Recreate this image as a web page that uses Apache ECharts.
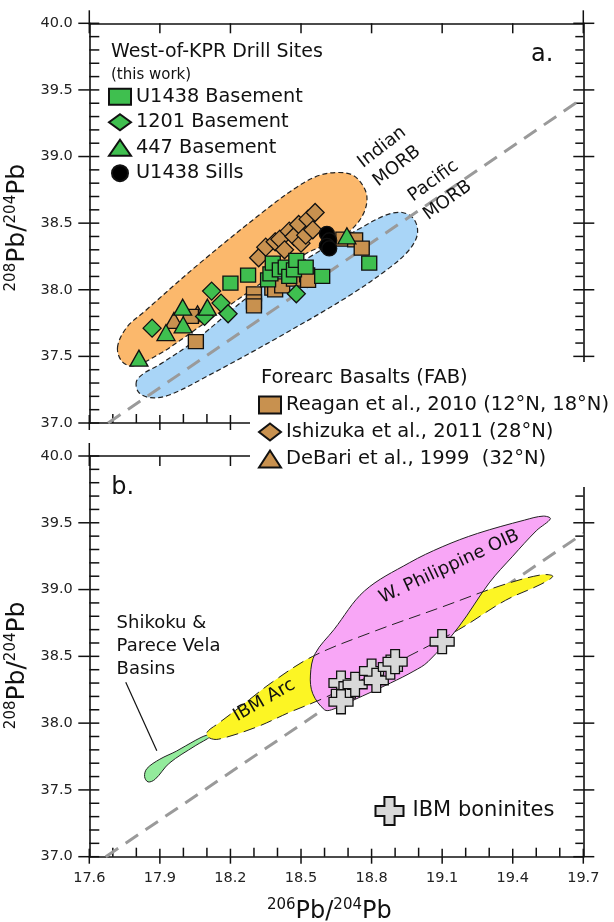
<!DOCTYPE html>
<html><head><meta charset="utf-8">
<script src="https://cdn.jsdelivr.net/npm/echarts@6/dist/echarts.min.js"></script>
<style>html,body{margin:0;padding:0;background:#fff}#c{width:614px;height:922px}</style>
</head><body><div id="c"></div>
<script>
// ---------------- data ----------------
const xTickLabels = ['17.6','17.9','18.2','18.5','18.8','19.1','19.4','19.7'];
const yTickLabels = ['37.0','37.5','38.0','38.5','39.0','39.5','40.0'];

// panel a : West-of-KPR drill sites
const u1438Basement = [[18.20,38.05],[18.275,38.11],[18.36,38.075],[18.37,38.12],[18.38,38.20],[18.41,38.15],[18.435,38.17],[18.45,38.10],[18.47,38.15],[18.48,38.22],[18.52,38.17],[18.59,38.10],[18.79,38.20]];
const site1201Basement = [[17.867,37.712],[18.09,37.80],[18.12,37.99],[18.16,37.90],[18.19,37.82],[18.48,37.97]];
const site447Basement = [[17.811,37.487],[17.926,37.679],[17.999,37.737],[17.997,37.869],[18.102,37.869],[18.695,38.405]];
const u1438Sills = [[18.61,38.42],[18.62,38.37],[18.61,38.33],[18.62,38.31]];
// panel a : forearc basalts
const reagan2010 = [[18.053,37.611],[18.032,37.80],[18.30,37.97],[18.30,37.91],[18.30,37.88],[18.378,38.012],[18.39,38.00],[18.42,38.03],[18.47,38.08],[18.526,38.112],[18.53,38.07],[18.68,38.38],[18.73,38.375],[18.758,38.312]];
const ishizuka2011 = [[18.32,38.24],[18.35,38.32],[18.39,38.36],[18.41,38.38],[18.43,38.30],[18.45,38.44],[18.47,38.40],[18.49,38.49],[18.50,38.35],[18.52,38.41],[18.53,38.53],[18.55,38.45],[18.56,38.58]];
const debari1999 = [[17.96,37.77],[18.06,37.82]];
// panel a : fields (outline vertices)
const indianMORB = [[17.72,37.57],[17.74,37.46],[17.79,37.43],[17.90,37.52],[18.01,37.65],[18.25,37.95],[18.52,38.27],[18.66,38.38],[18.73,38.48],[18.77,38.59],[18.78,38.70],[18.76,38.79],[18.72,38.86],[18.66,38.88],[18.58,38.86],[18.49,38.78],[18.35,38.60],[18.07,38.20],[17.83,37.83],[17.76,37.72]];
const pacificMORB = [[17.80,37.31],[17.81,37.23],[17.86,37.19],[17.94,37.21],[18.10,37.35],[18.40,37.64],[18.70,37.95],[18.88,38.17],[18.96,38.30],[18.995,38.42],[18.98,38.53],[18.93,38.58],[18.86,38.56],[18.74,38.45],[18.55,38.26],[18.30,37.98],[18.05,37.62],[17.90,37.44],[17.83,37.37]];
const nhrlA = [[17.68,37.0],[19.70,39.44]];

// panel b
const ibmBoninites = [[18.67,38.30],[18.68,38.22],[18.67,38.16],[18.73,38.29],[18.80,38.39],[18.82,38.32],[18.88,38.42],[18.90,38.46],[19.10,38.61]];
const shikokuField = [[17.85,37.56],[17.835,37.60],[17.845,37.66],[17.90,37.73],[17.97,37.79],[18.05,37.87],[18.10,37.91],[18.115,37.90],[18.05,37.83],[17.94,37.70],[17.88,37.58]];
const ibmArcField = [[18.10,37.93],[18.15,38.00],[18.24,38.12],[18.38,38.31],[18.55,38.50],[18.80,38.68],[19.10,38.87],[19.35,39.03],[19.52,39.11],[19.57,39.10],[19.52,39.04],[19.37,38.92],[19.17,38.70],[18.90,38.45],[18.60,38.19],[18.45,38.08],[18.31,37.97],[18.15,37.88],[18.11,37.89]];
const wPhilippineOIB = [[18.60,38.10],[18.55,38.22],[18.54,38.36],[18.56,38.52],[18.64,38.70],[18.77,38.99],[18.96,39.20],[19.10,39.32],[19.25,39.42],[19.45,39.52],[19.53,39.55],[19.56,39.53],[19.50,39.44],[19.40,39.25],[19.30,39.05],[19.17,38.72],[19.04,38.46],[18.98,38.39],[18.88,38.30],[18.72,38.17],[18.63,38.10]];
const nhrlB = [[17.67,37.0],[19.70,39.42]];

// ---------------- helpers ----------------
const X0 = parseFloat(xTickLabels[0]);
const XN = Math.round((parseFloat(xTickLabels[xTickLabels.length-1]) - X0) * 10);   // 21 (0.1 units)
const Y0 = parseFloat(yTickLabels[0]), YN = parseFloat(yTickLabels[yTickLabels.length-1]);
const tx = x => Math.round((x - X0) * 10 * 10000) / 10000;   // axis works in 0.1 units from 17.6
const conv = arr => arr.map(p => [tx(p[0]), p[1]]);
const FONT = 'DejaVu Sans';
const LS = {color:'#111', width:1.6};

function xAx(grid, pos, labels, name) {
  const a = {gridIndex:grid, type:'value', position:pos, min:0, max:XN, interval:3,
    axisLine:{show:true, onZero:false, lineStyle:LS},
    axisTick:{show:false}, minorTick:{show:false},
    splitLine:{show:false}, minorSplitLine:{show:false},
    axisLabel:{show:labels, margin:14.5, color:'#222', fontFamily:FONT, fontSize:14.5, showMinLabel:true, showMaxLabel:true,
      formatter: v => xTickLabels[Math.round(v/3)] || ''},
    silent:true};
  if (name) {
    a.name = '{sup|206}{b|Pb/}{sup|204}{b|Pb}';
    a.nameLocation = 'middle'; a.nameGap = 41;
    a.nameTextStyle = {padding:[0,14,0,0], rich:{sup:{fontSize:15, fontFamily:FONT, color:'#111', verticalAlign:'top', lineHeight:15},
                             b:{fontSize:24, fontFamily:FONT, color:'#111', lineHeight:28}}};
  }
  return a;
}
function yAx(grid, pos, labels, name, shift) {
  const a = {gridIndex:grid, type:'value', position:pos, min:Y0, max:YN, interval:0.5,
    axisLine:{show:true, onZero:false, lineStyle:LS},
    axisTick:{show:false}, minorTick:{show:false},
    splitLine:{show:false}, minorSplitLine:{show:false},
    axisLabel:{show:labels, margin:16.5, color:'#222', fontFamily:FONT, fontSize:14.5, showMinLabel:true, showMaxLabel:true,
      formatter: v => yTickLabels[Math.round((v-Y0)/0.5)] || ''},
    silent:true};
  if (name) {
    a.name = '{sup|208}{b|Pb/}{sup|204}{b|Pb}';
    a.nameLocation = 'middle'; a.nameGap = 51; a.nameRotate = 90;
    a.nameTextStyle = {padding:[0,shift,0,0], rich:{sup:{fontSize:15, fontFamily:FONT, color:'#111', verticalAlign:'top', lineHeight:15},
                             b:{fontSize:25, fontFamily:FONT, color:'#111', lineHeight:28}}};
  }
  return a;
}

// frame ticks: minor every 0.1, major every 0.5 (y) / 0.3 (x), placed through the axes' coordinates
function ticks(xi, yi) {
  return {type:'custom', xAxisIndex:xi, yAxisIndex:yi, silent:true, z:1, clip:false,
    data:[[0, Y0]],
    renderItem:(params, api) => {
      const ch = [];
      const add = (p, dx, dy) => ch.push({type:'line', shape:{x1:p[0], y1:p[1], x2:p[0]+dx, y2:p[1]+dy},
        style:{stroke:'#111', lineWidth:1.5}});
      const ny = Math.round((YN - Y0) * 10);
      for (let k = 0; k <= ny; k++) {
        const y = Y0 + k / 10, major = k % 5 === 0;
        const L = api.coord([0, y]), R = api.coord([XN, y]);
        add(L, 10, 0); if (major) add(L, -11, 0);
        add(R, major ? -10 : -8, 0); if (major) add(R, 11, 0);
      }
      for (let k = 0; k <= XN; k++) {
        const major = k % 3 === 0;
        const B = api.coord([k, Y0]), T = api.coord([k, YN]);
        add(B, 0, major ? -8 : -9); if (major) add(B, 0, 7);
        if (major) add(T, 0, 10);
      }
      add(api.coord([0, YN]), 0, -13); add(api.coord([XN, YN]), 0, -13);
      return {type:'group', children:ch};
    }};
}
function field(name, pts, xi, yi, fill, stroke, dash, z, lw) {
  return {type:'custom', name:name, xAxisIndex:xi, yAxisIndex:yi, silent:true, z:z,
    data:[[tx(pts[0][0]), pts[0][1]]],
    renderItem:(params, api) => ({type:'polygon',
      shape:{points: pts.map(p => api.coord([tx(p[0]), p[1]])), smooth:0.35},
      style:{fill:fill, stroke:stroke, lineWidth:lw||1.2, lineDash:dash}})};
}
function scatter(name, pts, xi, yi, symbol, size, color, z) {
  return {type:'scatter', name:name, xAxisIndex:xi, yAxisIndex:yi, z:z, silent:true,
    symbol:symbol, symbolSize:size, data:conv(pts),
    itemStyle:{color:color, borderColor:'#111', borderWidth:1.3, opacity:1}};
}
function refLine(pts, xi, yi, z) {
  return {type:'line', xAxisIndex:xi, yAxisIndex:yi, z:z, silent:true, symbol:'none', data:conv(pts),
    lineStyle:{color:'#9a9a9a', width:3, type:[15,9]}};
}
function annot(list, xi, yi, z) {
  return {type:'custom', xAxisIndex:xi, yAxisIndex:yi, silent:true, z:z,
    data: list.map(a => [tx(a.x), a.y]),
    renderItem:(params, api) => {
      const a = list[params.dataIndex];
      const p = api.coord([tx(a.x), a.y]);
      if (a.to) {
        const q = api.coord([tx(a.to[0]), a.to[1]]);
        return {type:'line', shape:{x1:p[0], y1:p[1], x2:q[0], y2:q[1]}, style:{stroke:'#111', lineWidth:1.2}};
      }
      return {type:'text', x:p[0], y:p[1], rotation:(a.rot||0)*Math.PI/180,
        style:{text:a.text, fontSize:a.size, fontFamily:FONT, fill:'#111',
          align:a.align||'center', verticalAlign:a.valign||'middle', lineHeight:a.lh||22}};
    }};
}

const annA = [
  {x:18.876, y:38.998, text:'Indian\nMORB', rot:38, size:18, lh:24},
  {x:19.093, y:38.743, text:'Pacific\nMORB', rot:36, size:18, lh:24},
  {x:19.525, y:39.762, text:'a.', size:24}
];
const annB = [
  {x:18.344, y:38.17, text:'IBM Arc', rot:30, size:18},
  {x:19.13, y:39.17, text:'W. Philippine OIB', rot:25, size:18},
  {x:17.716, y:38.83, text:'Shikoku &\nParece Vela\nBasins', size:18, lh:23, align:'left', valign:'top'},
  {x:17.742, y:39.76, text:'b.', size:24},
  {x:17.755, y:38.307, to:[17.887, 37.794]}
];

const crossPath = 'path://M3.5,0H7.5V3.5H11V7.5H7.5V11H3.5V7.5H0V3.5H3.5Z';
const GREEN = '#3fbf4f', TAN = '#c8914f';

const option = {
  animation:false,
  backgroundColor:'#fff',
  grid:[
    {left:89.3, top:23.3, width:494, height:399.7, containLabel:false, outerBoundsMode:'none'},
    {left:89.3, top:456, width:494, height:400.7, containLabel:false, outerBoundsMode:'none'}
  ],
  xAxis:[
    xAx(0,'bottom',false,false),
    xAx(0,'top',false,false),
    xAx(1,'bottom',true,true),
    xAx(1,'top',false,false)
  ],
  yAxis:[
    yAx(0,'left',true,true,9),
    yAx(0,'right',false,false,0),
    yAx(1,'left',true,true,18),
    yAx(1,'right',false,false,0)
  ],
  title:[
    {text:'West-of-KPR Drill Sites', subtext:'(this work)', left:111, top:41, padding:0, itemGap:3,
      textStyle:{fontFamily:FONT, fontSize:19, fontWeight:'normal', color:'#111', lineHeight:22},
      subtextStyle:{fontFamily:FONT, fontSize:15, color:'#111', lineHeight:18}},
    {text:'Forearc Basalts (FAB)', left:261, top:367, padding:0,
      textStyle:{fontFamily:FONT, fontSize:19.5, fontWeight:'normal', color:'#111', lineHeight:22}}
  ],
  legend:[
    {data:['U1438 Basement','1201 Basement','447 Basement','U1438 Sills'], orient:'vertical', left:108, top:86.7,
      padding:0, itemGap:5.5, itemWidth:22, itemHeight:16, selectedMode:false,
      textStyle:{fontFamily:FONT, fontSize:19.3, color:'#111', lineHeight:20}},
    {data:['Reagan et al., 2010 (12°N, 18°N)','Ishizuka et al., 2011 (28°N)','DeBari et al., 1999  (32°N)'],
      orient:'vertical', left:250, top:362, padding:[33,4,18,8], backgroundColor:'#fff',
      itemGap:7, itemWidth:22, itemHeight:17, selectedMode:false,
      textStyle:{fontFamily:FONT, fontSize:19.5, color:'#111', lineHeight:20}},
    {data:['IBM boninites'], orient:'vertical', left:374.5, top:796, padding:0,
      itemWidth:36, itemHeight:28, selectedMode:false,
      textStyle:{fontFamily:FONT, fontSize:21, color:'#111', lineHeight:22}}
  ],
  series:[
    // panel a
    ticks(0, 0),
    field('Indian MORB', indianMORB, 0, 0, '#fbb86c', '#222', [5,3], 1),
    field('Pacific MORB', pacificMORB, 0, 0, '#a9d5f7', '#222', [5,3], 1),
    refLine(nhrlA, 0, 0, 2),
    scatter('DeBari et al., 1999  (32°N)', debari1999, 0, 0, 'triangle', [18,16], TAN, 3),
    scatter('Reagan et al., 2010 (12°N, 18°N)', reagan2010, 0, 0, 'rect', [15,14], TAN, 3),
    scatter('Ishizuka et al., 2011 (28°N)', ishizuka2011, 0, 0, 'diamond', [18,18], TAN, 3),
    scatter('U1438 Basement', u1438Basement, 0, 0, 'rect', [15,14], GREEN, 4),
    scatter('1201 Basement', site1201Basement, 0, 0, 'diamond', [18,18], GREEN, 4),
    scatter('447 Basement', site447Basement, 0, 0, 'triangle', [18,16], GREEN, 4),
    scatter('U1438 Sills', u1438Sills, 0, 0, 'circle', [15,15], '#000', 5),
    annot(annA, 0, 0, 6),
    // panel b
    ticks(2, 2),
    refLine(nhrlB, 2, 2, 1),
    field('Shikoku & Parece Vela Basins', shikokuField, 2, 2, '#93eb9c', '#222', null, 2, 1),
    field('IBM Arc', ibmArcField, 2, 2, '#fcf524', null, null, 2),
    field('W. Philippine OIB', wPhilippineOIB, 2, 2, '#f8a6f6', '#222', null, 3, 1),
    field('IBM Arc outline', ibmArcField, 2, 2, 'none', '#222', [12,6], 3, 1),
    scatter('IBM boninites', ibmBoninites, 2, 2, crossPath, [24,24], '#d8d8d8', 5),
    annot(annB, 2, 2, 6)
  ]
};
const chart = echarts.init(document.getElementById('c'), null, {renderer:'canvas'});
chart.setOption(option);
</script></body></html>
